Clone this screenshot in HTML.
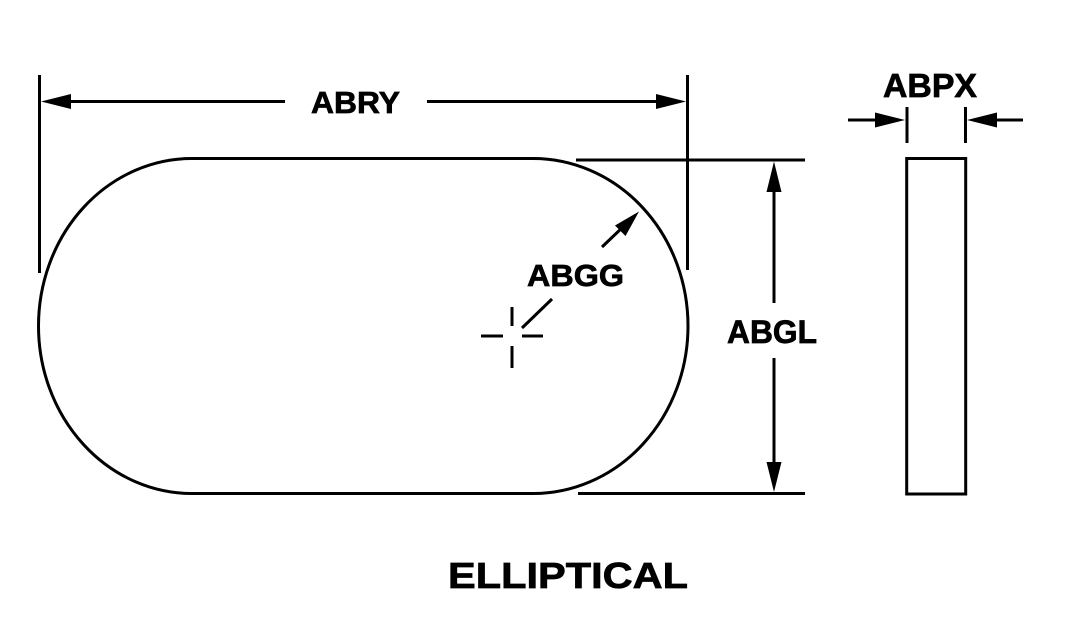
<!DOCTYPE html>
<html>
<head>
<meta charset="utf-8">
<style>
  html, body { margin: 0; padding: 0; background: #fff; }
  body { width: 1065px; height: 630px; overflow: hidden; }
  svg { display: block; }
  text { font-family: "Liberation Sans", Arial, sans-serif; font-weight: bold; fill: #000; stroke: #000; stroke-width: 0.7; }
</style>
</head>
<body>
<svg width="1065" height="630" viewBox="0 0 1065 630" xmlns="http://www.w3.org/2000/svg">
  <g stroke="#000" stroke-width="3" fill="none" stroke-linecap="butt">
    <!-- stadium shape -->
    <path d="M192,158.5 L533,158.5 A155,167.5 0 0 1 533,493.5 L192,493.5 A153.5,167.5 0 0 1 192,158.5 Z"/>
    <!-- extension lines ABRY -->
    <line x1="39.5" y1="75" x2="39.5" y2="273"/>
    <line x1="687.5" y1="75" x2="687.5" y2="270"/>
    <!-- ABRY dim lines -->
    <line x1="60" y1="101.5" x2="285" y2="101.5"/>
    <line x1="427" y1="101.5" x2="665" y2="101.5"/>
    <!-- ABGL extension lines -->
    <line x1="576" y1="160" x2="805" y2="160"/>
    <line x1="578" y1="493.5" x2="805" y2="493.5"/>
    <!-- ABGL dim lines -->
    <line x1="774" y1="185" x2="774" y2="303"/>
    <line x1="774" y1="358" x2="774" y2="470"/>
    <!-- ABGG leader -->
    <line x1="602" y1="247" x2="625" y2="225"/>
    <line x1="552" y1="299" x2="522" y2="328"/>
    <!-- crosshair -->
    <line x1="481" y1="336" x2="503" y2="336"/>
    <line x1="522" y1="336" x2="543" y2="336"/>
    <line x1="512" y1="307" x2="512" y2="326"/>
    <line x1="512" y1="346" x2="512" y2="368"/>
    <!-- ABPX -->
    <line x1="848" y1="120" x2="882" y2="120"/>
    <line x1="990" y1="120" x2="1023" y2="120"/>
    <line x1="907" y1="107" x2="907" y2="143"/>
    <line x1="965.5" y1="107" x2="965.5" y2="143"/>
    <!-- side rect -->
    <rect x="906.7" y="158.5" width="59" height="335.5"/>
  </g>
  <g fill="#000" stroke="none">
    <!-- ABRY arrowheads -->
    <polygon points="41,101.5 71,94 71,109"/>
    <polygon points="686,101.5 656,94 656,109"/>
    <!-- ABGL arrowheads -->
    <polygon points="774,161.5 766.5,192 781.5,192"/>
    <polygon points="774,492 766.5,462 781.5,462"/>
    <!-- ABGG arrowhead -->
    <polygon points="639,211.5 625.5,236 615,225.5"/>
    <!-- ABPX arrowheads -->
    <polygon points="905,120 875,112.5 875,127.5"/>
    <polygon points="967,120 997,112.5 997,127.5"/>
  </g>
  <text x="311" y="113" font-size="31" textLength="89" lengthAdjust="spacingAndGlyphs">ABRY</text>
  <text x="527" y="286" font-size="31" textLength="97" lengthAdjust="spacingAndGlyphs">ABGG</text>
  <text x="727" y="343" font-size="32" textLength="90" lengthAdjust="spacingAndGlyphs">ABGL</text>
  <text x="883" y="97" font-size="33" textLength="94" lengthAdjust="spacingAndGlyphs">ABPX</text>
  <text x="448" y="588" font-size="36" textLength="240" lengthAdjust="spacingAndGlyphs">ELLIPTICAL</text>
</svg>
</body>
</html>
